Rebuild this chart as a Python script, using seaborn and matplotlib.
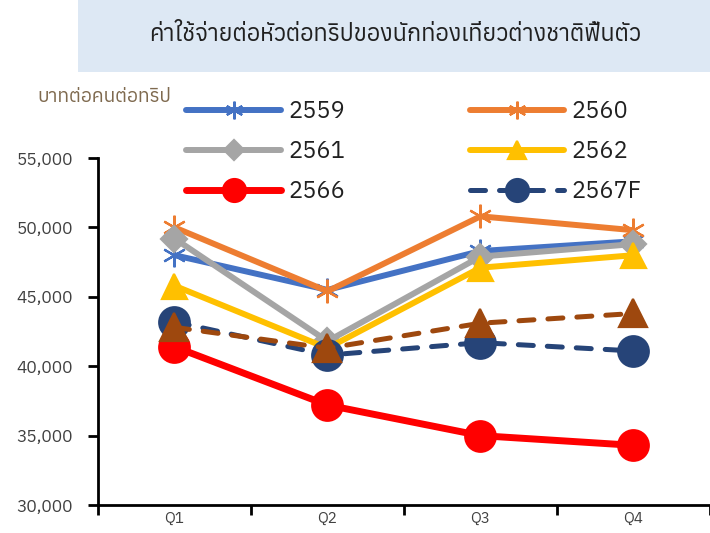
import numpy as np
import pandas as pd
import matplotlib
matplotlib.use('Agg')
import matplotlib.pyplot as plt
from matplotlib import font_manager
from matplotlib.ft2font import FT2Font
from matplotlib.patches import Rectangle
import seaborn as sns

# data
quarters = ['Q1', 'Q2', 'Q3', 'Q4']
y2559 = [48000, 45500, 48300, 49000]
y2560 = [50000, 45400, 50800, 49800]
y2561 = [49200, 41800, 47900, 48800]
y2562 = [45800, 41300, 47100, 48000]
y2566 = [41400, 37200, 35000, 34300]
y2567f = [43200, 40800, 41700, 41100]
y2568f = [42800, 41300, 43100, 43800]

title = 'ค่าใช้จ่ายต่อหัวต่อทริปของนักท่องเที่ยวต่างชาติฟื้นตัว'
unit_label = 'บาทต่อคนต่อทริป'

# find a font that can draw Thai
thai_fonts = []
for f in font_manager.fontManager.ttflist:
    try:
        if 0x0E01 in FT2Font(f.fname).get_charmap():
            thai_fonts.append(f.name)
    except Exception:
        pass
thai_fonts = sorted(set(thai_fonts))

sns.set_style('white')
plt.rcParams['font.family'] = thai_fonts[:1] + ['DejaVu Sans']

fig = plt.figure(figsize=(7.1, 5.33), dpi=100)
ax = fig.add_axes([0.138, 0.0525, 0.862, 0.651])

series = [
    ('2559', y2559, '#4472c4', (6, 2, 0), 17, 4.3, '-'),
    ('2560', y2560, '#ed7d31', (6, 2, 0), 17, 4.3, '-'),
    ('2561', y2561, '#a5a5a5', 'D', 13, 4.3, '-'),
    ('2562', y2562, '#ffc000', '^', 18, 4.3, '-'),
    ('2566', y2566, '#ff0000', 'o', 22, 5.0, '-'),
    ('2567F', y2567f, '#264478', 'o', 22, 3.6, '--'),
    ('_2568F', y2568f, '#9e480e', '^', 20, 3.6, '--'),
]

for name, vals, color, marker, ms, lw, ls in series:
    sns.lineplot(x=quarters, y=vals, ax=ax, color=color, marker=marker,
                 markersize=ms, markeredgecolor=color, markeredgewidth=1.6,
                 lw=lw, linestyle=ls, label=name, sort=False)
    if ls == '--':
        ax.lines[-1].set_dashes([3, 2.8])
        ax.lines[-1].set_dash_capstyle('round')
    ax.lines[-1].set_solid_capstyle('round')

ax.set_ylim(30000, 55000)
ax.set_xlim(-0.5, 3.5)
ax.set_yticks(np.arange(30000, 55001, 5000))
ax.set_yticklabels([f'{v:,}' for v in range(30000, 55001, 5000)],
                   fontsize=12.5, color='#404040')
ax.set_xticks(range(4))
ax.set_xticklabels(quarters, fontsize=11, color='#404040')
ax.set_xticks([-0.5, 0.5, 1.5, 2.5, 3.5], minor=True)
ax.tick_params(axis='x', which='major', length=0, pad=5)
ax.tick_params(axis='x', which='minor', length=7, width=2, color='black',
               direction='out', bottom=True)
ax.tick_params(axis='y', length=7, width=2, color='black', left=True, pad=11)
ax.set_xlabel('')
ax.set_ylabel('')
for s in ['top', 'right']:
    ax.spines[s].set_visible(False)
for s in ['left', 'bottom']:
    ax.spines[s].set_linewidth(2)
    ax.spines[s].set_color('black')

# legend filled row by row like the reference
handles, labels = ax.get_legend_handles_labels()
order = [0, 2, 4, 1, 3, 5]
ax.get_legend().remove()
leg = fig.legend([handles[i] for i in order], [labels[i] for i in order],
                 ncol=2, loc='upper left', bbox_to_anchor=(0.246, 0.834),
                 frameon=False, fontsize=17, borderpad=0,
                 handlelength=4.0, columnspacing=5.3, labelspacing=0.72,
                 handletextpad=0.3, markerscale=0.75)
for t in leg.get_texts():
    t.set_color('#202020')

fig.patches.append(Rectangle((0.11, 0.865), 0.89, 0.135, transform=fig.transFigure,
                             facecolor='#dde8f4', edgecolor='none', zorder=0))
fig.text(0.557, 0.935, title, ha='center', va='center', fontsize=16.9,
         color='#202020')
fig.text(0.053, 0.818, unit_label, ha='left', va='center', fontsize=13.8,
         color='#7f6a4f')

fig.savefig('out.png', dpi=100)
